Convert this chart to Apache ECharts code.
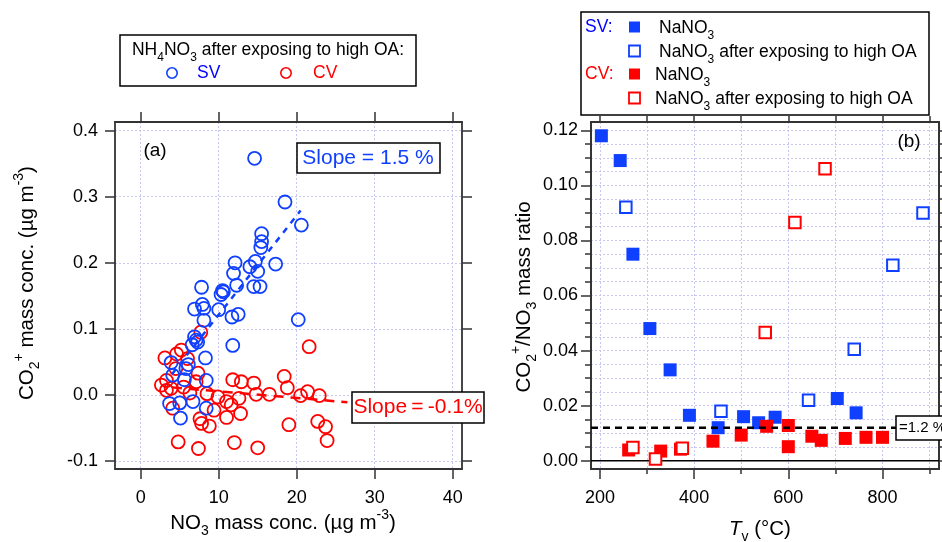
<!DOCTYPE html>
<html>
<head>
<meta charset="utf-8">
<script src="https://cdn.jsdelivr.net/npm/echarts@6/dist/echarts.min.js"></script>
<style>
  html, body { margin: 0; padding: 0; background: #fff; }
  #chart { width: 942px; height: 542px; }
</style>
</head>
<body>
<div id="chart"></div>
<script>
// ---- Panel (a): CO2+ vs NO3 for NH4NO3 after exposure to high OA ----
const svPoints = [
  [14.6, 0.358], [18.5, 0.292], [20.6, 0.257], [15.5, 0.244], [15.5, 0.232], [15.4, 0.223],
  [12.1, 0.200], [14.7, 0.202], [17.3, 0.198], [14.0, 0.194], [11.9, 0.184], [15.0, 0.187],
  [7.8, 0.163], [10.5, 0.158], [10.3, 0.152], [10.6, 0.156], [12.3, 0.166], [14.5, 0.164], [15.3, 0.164],
  [6.9, 0.130], [7.9, 0.137], [8.1, 0.131], [8.1, 0.113], [10.0, 0.129], [11.7, 0.118],
  [12.5, 0.122], [20.2, 0.114], [11.8, 0.075], [6.9, 0.088], [7.1, 0.083], [7.3, 0.080],
  [6.6, 0.076], [8.3, 0.056], [3.9, 0.049], [6.1, 0.046], [5.8, 0.040], [4.1, 0.030],
  [5.6, 0.023], [8.4, 0.022], [3.7, -0.013], [5.0, -0.012], [6.7, -0.010], [8.4, -0.020],
  [5.1, -0.035]
];
const cvPoints = [
  [21.6, 0.073], [3.1, 0.056], [5.2, 0.068], [4.6, 0.062], [7.7, 0.095], [2.65, 0.015],
  [3.3, 0.022], [3.3, 0.007], [7.35, 0.033], [7.1, 0.020], [8.5, 0.002], [6.3, 0.003],
  [11.8, 0.023], [12.9, 0.020], [14.5, 0.018], [14.8, 0.001], [16.5, 0.001], [18.4, 0.028],
  [18.8, 0.011], [20.5, -0.001], [21.4, 0.005], [22.9, -0.001], [12.6, -0.005], [11.0, -0.010],
  [11.6, -0.015], [9.4, -0.023], [11.0, -0.034], [12.8, -0.028], [7.6, -0.036], [7.8, -0.043],
  [8.8, -0.047], [4.8, -0.071], [7.4, -0.081], [12.0, -0.072], [15.0, -0.080], [19.0, -0.045],
  [22.7, -0.040], [23.7, -0.048], [23.9, -0.069], [4.1, -0.020], [3.9, 0.010], [5.5, 0.012],
  [4.5, 0.040], [6.0, 0.055], [9.9, -0.003]
];
// linear fits (slope in ug CO2+ per ug NO3)
const svSlope = 0.015, svIntercept = -0.0285, svFitRange = [4, 20.5];
const cvSlope = -0.001, cvIntercept = 0.0155, cvFitRange = [4, 26.5];

const aXRange = [-3.3, 41.2];
const aYRange = [-0.112, 0.413];
const aXTicks = [0, 10, 20, 30, 40];
const aYTicks = [-0.1, 0, 0.1, 0.2, 0.3, 0.4];

// ---- Panel (b): CO2+/NO3 ratio vs vaporizer temperature ----
const svNaNO3 = [
  [203, 0.118], [243, 0.109], [270, 0.075], [306, 0.048], [349, 0.033], [390, 0.0165],
  [451, 0.012], [505, 0.016], [537, 0.0138], [572, 0.0158], [704, 0.0226], [744, 0.0174]
];
const svNaNO3Exposed = [
  [255, 0.092], [457, 0.018], [643, 0.022], [740, 0.0405], [822, 0.071], [886, 0.090]
];
const cvNaNO3 = [
  [261, 0.0039], [329, 0.0035], [371, 0.0042], [440, 0.0071], [500, 0.0093], [554, 0.0125],
  [600, 0.0128], [600, 0.0051], [650, 0.0089], [670, 0.0074], [721, 0.0081], [765, 0.0085],
  [800, 0.0085]
];
const cvNaNO3Exposed = [
  [270, 0.0048], [318, 0.0006], [375, 0.0045], [551, 0.0466], [614, 0.0865], [678, 0.106]
];
const baselineRatio = 0.012;   // 1.2 %

const bXRange = [181, 920];
const bYRange = [-0.003, 0.123];
const bXTicks = [200, 400, 600, 800];
const bXMinorTicks = [200, 300, 400, 500, 600, 700, 800, 900];
const bYTicks = [0, 0.02, 0.04, 0.06, 0.08, 0.10, 0.12];
const bYMinorTicks = [0, 0.005, 0.01, 0.015, 0.02, 0.025, 0.03, 0.035, 0.04, 0.045, 0.05, 0.055,
  0.06, 0.065, 0.07, 0.075, 0.08, 0.085, 0.09, 0.095, 0.1, 0.105, 0.11, 0.115, 0.12];

// ---- styling ----
const FONT = "'Liberation Sans', Arial, Helvetica, sans-serif";
const BLUE = '#1040ff';
const RED = '#ff0000';
const FRAME = '#333333';
const GRID_COLOR = '#c6c6f0';
const TITLE_SIZE = 20.5;
const LEGEND_SIZE = 17.5;

function axis(gridIndex, position, range, opts) {
  const o = Object.assign({
    ticks: [], tickLen: 10, labels: null, fmt: null, grid: false, splitNumber: 5, margin: 18
  }, opts || {});
  return {
    type: 'value', gridIndex, position, min: range[0], max: range[1],
    splitNumber: o.splitNumber,
    axisLine: { show: true, onZero: false, lineStyle: { color: FRAME, width: 1.8 } },
    axisTick: { show: true, inside: false, length: o.tickLen, customValues: o.ticks,
      lineStyle: { color: FRAME, width: 1.5 } },
    axisLabel: o.labels ? {
      show: true, customValues: o.labels, margin: o.margin, color: '#000',
      fontSize: 18, fontFamily: FONT, formatter: o.fmt
    } : { show: false },
    splitLine: o.grid ? { show: true, lineStyle: { color: GRID_COLOR, width: 1, type: [2, 2] } } : { show: false },
    minorTick: { show: false }
  };
}

const xAxes = [
  axis(0, 'bottom', aXRange, { ticks: aXTicks, labels: aXTicks, fmt: v => String(v), grid: true, splitNumber: 4, margin: 20 }),
  axis(0, 'top', aXRange, { ticks: aXTicks, splitNumber: 4 }),
  axis(1, 'bottom', bXRange, { ticks: bXTicks, labels: bXTicks, fmt: v => String(v), splitNumber: 7, margin: 20 }),
  axis(1, 'bottom', bXRange, { ticks: bXMinorTicks, tickLen: 5, grid: true, splitNumber: 7 }),
  axis(1, 'top', bXRange, { ticks: bXMinorTicks, tickLen: 6, splitNumber: 7 })
];
const yAxes = [
  axis(0, 'left', aYRange, { ticks: aYTicks, labels: aYTicks, fmt: v => v.toFixed(1), grid: true, splitNumber: 5, margin: 17 }),
  axis(0, 'right', aYRange, { ticks: aYTicks, splitNumber: 5 }),
  axis(1, 'left', bYRange, { ticks: bYTicks, labels: bYTicks, fmt: v => v.toFixed(2), splitNumber: 25, margin: 13 }),
  axis(1, 'left', bYRange, { ticks: bYMinorTicks, tickLen: 6, grid: true, splitNumber: 25 }),
  axis(1, 'right', bYRange, { ticks: bYTicks, splitNumber: 25 }),
  axis(1, 'right', bYRange, { ticks: bYMinorTicks, tickLen: 6, splitNumber: 25 })
];

function rings(name, data, color) {
  return {
    name, type: 'scatter', xAxisIndex: 0, yAxisIndex: 0, data,
    symbol: 'circle', symbolSize: 13,
    itemStyle: { color: 'rgba(255,255,255,0)', borderColor: color, borderWidth: 1.8, opacity: 1 },
    emphasis: { disabled: true }, z: 3
  };
}
function fitLine(name, range, slope, intercept, color, dash) {
  return {
    name, type: 'line', xAxisIndex: 0, yAxisIndex: 0,
    data: range.map(x => [x, intercept + slope * x]),
    symbol: 'none', lineStyle: { color, width: 2.5, type: dash }, z: 4, silent: true
  };
}
function squares(name, data, color, filled) {
  return {
    name, type: 'scatter', xAxisIndex: 2, yAxisIndex: 2, data,
    symbol: 'rect', symbolSize: filled ? 13 : 11.5,
    itemStyle: filled
      ? { color, opacity: 1 }
      : { color: '#ffffff', borderColor: color, borderWidth: 2, opacity: 1 },
    emphasis: { disabled: true }, z: 3
  };
}
function hLine(name, value, style, z) {
  return {
    name, type: 'line', xAxisIndex: 2, yAxisIndex: 2,
    data: bXRange.map(x => [x, value]), symbol: 'none',
    lineStyle: style, z, silent: true
  };
}

// rich text with sub/superscripts
function rich(size, color) {
  const s = Math.round(size * 0.68);
  return {
    n: { fontSize: size, fontFamily: FONT, fill: color, lineHeight: size + 10 },
    it: { fontSize: size, fontFamily: FONT, fill: color, fontStyle: 'italic', lineHeight: size + 10 },
    sub: { fontSize: s, fontFamily: FONT, fill: color, verticalAlign: 'bottom', lineHeight: s + 2 },
    sup: { fontSize: s, fontFamily: FONT, fill: color, verticalAlign: 'top', lineHeight: s + 2 }
  };
}
function richText(text, x, y, size, color, align, rotation) {
  const el = {
    type: 'text', x, y, z: 100,
    style: {
      text, rich: rich(size, color), fill: color, fontSize: size, fontFamily: FONT,
      align, verticalAlign: 'middle', textAlign: align, textVerticalAlign: 'middle'
    }
  };
  if (rotation) el.rotation = rotation;
  return el;
}
function plain(text, x, y, size, color, align) {
  return {
    type: 'text', x, y, z: 100,
    style: {
      text, fill: color, fontSize: size, fontFamily: FONT,
      align: align || 'left', verticalAlign: 'middle',
      textAlign: align || 'left', textVerticalAlign: 'middle'
    }
  };
}
function box(x, y, w, h) {
  return { type: 'rect', z: 99, shape: { x, y, width: w, height: h },
    style: { fill: '#fff', stroke: '#000', lineWidth: 1.5 } };
}
function marker(shape, cx, cy, color, filled) {
  if (shape === 'circle') {
    return { type: 'circle', z: 100, shape: { cx, cy, r: 5.2 },
      style: { fill: 'none', stroke: color, lineWidth: 1.6 } };
  }
  return { type: 'rect', z: 100, shape: { x: cx - 5.5, y: cy - 5.5, width: 11, height: 11 },
    style: filled ? { fill: color } : { fill: '#fff', stroke: color, lineWidth: 1.8 } };
}

const graphics = [
  // panel (a) legend
  box(120, 35, 296, 51),
  richText('{n|NH}{sub|4}{n|NO}{sub|3}{n| after exposing to high OA:}', 268, 50, LEGEND_SIZE, '#000', 'center'),
  marker('circle', 172, 73, BLUE),
  plain('SV', 197, 73, LEGEND_SIZE, '#0000ff'),
  marker('circle', 286, 73, RED),
  plain('CV', 313, 73, LEGEND_SIZE, RED),
  // panel (a) annotations
  plain('(a)', 155, 151, 19, '#000', 'center'),
  box(297, 143, 143, 30),
  plain('Slope = 1.5 %', 368, 158, 21, BLUE, 'center'),
  box(352, 392, 132, 31),
  plain('Slope\u2009=\u2009-0.1%', 418, 407, 21, RED, 'center'),
  // panel (a) axis titles
  richText('{n|NO}{sub|3}{n| mass conc. (\u00b5g m}{sup|-3}{n|)}', 283, 523, TITLE_SIZE, '#000', 'center'),
  richText('{n|CO}{sub|2}{sup|+}{n| mass conc. (\u00b5g m}{sup|-3}{n|)}', 27, 283, TITLE_SIZE, '#000', 'center', Math.PI / 2),

  // panel (b) legend
  box(581, 12, 348, 103),
  plain('SV:', 585, 27, LEGEND_SIZE, '#0000ff'),
  marker('rect', 634.5, 27, BLUE, true),
  richText('{n|NaNO}{sub|3}', 659, 28, LEGEND_SIZE, '#000', 'left'),
  marker('rect', 634.5, 51, BLUE, false),
  richText('{n|NaNO}{sub|3}{n| after exposing to high OA}', 659, 52, LEGEND_SIZE, '#000', 'left'),
  plain('CV:', 585, 74, LEGEND_SIZE, RED),
  marker('rect', 634.5, 74, RED, true),
  richText('{n|NaNO}{sub|3}', 655, 75, LEGEND_SIZE, '#000', 'left'),
  marker('rect', 634.5, 98, RED, false),
  richText('{n|NaNO}{sub|3}{n| after exposing to high OA}', 655, 99, LEGEND_SIZE, '#000', 'left'),
  // panel (b) annotations
  plain('(b)', 909, 142, 19, '#000', 'center'),
  box(896, 416, 60, 24),
  plain('=1.2 %', 899, 428, 15, '#000'),
  // panel (b) axis titles
  richText('{n|CO}{sub|2}{sup|+}{n|/NO}{sub|3}{n| mass ratio}', 524, 297, TITLE_SIZE, '#000', 'center', Math.PI / 2),
  richText('{it|T}{sub|v}{n| (\u00b0C)}', 760, 529, TITLE_SIZE, '#000', 'center')
];

const option = {
  animation: false,
  backgroundColor: '#ffffff',
  textStyle: { fontFamily: FONT },
  grid: [
    { left: 115, top: 122, width: 347, height: 347, containLabel: false, outerBoundsMode: 'none' },
    { left: 591, top: 122, width: 348, height: 347, containLabel: false, outerBoundsMode: 'none' }
  ],
  xAxis: xAxes,
  yAxis: yAxes,
  series: [
    rings('CV', cvPoints, RED),
    rings('SV', svPoints, BLUE),
    fitLine('SV fit', svFitRange, svSlope, svIntercept, BLUE, [6, 6]),
    fitLine('CV fit', cvFitRange, cvSlope, cvIntercept, RED, [10, 7]),
    hLine('zero', 0, { color: '#000', width: 1.5, type: 'solid' }, 1),
    squares('SV NaNO3', svNaNO3, BLUE, true),
    squares('SV NaNO3 exposed', svNaNO3Exposed, BLUE, false),
    squares('CV NaNO3', cvNaNO3, RED, true),
    squares('CV NaNO3 exposed', cvNaNO3Exposed, RED, false),
    hLine('1.2 %', baselineRatio, { color: '#000', width: 2.5, type: [7, 5] }, 5)
  ],
  graphic: { elements: graphics }
};

const chart = echarts.init(document.getElementById('chart'), null, { renderer: 'canvas' });
chart.setOption(option);
</script>
</body>
</html>
